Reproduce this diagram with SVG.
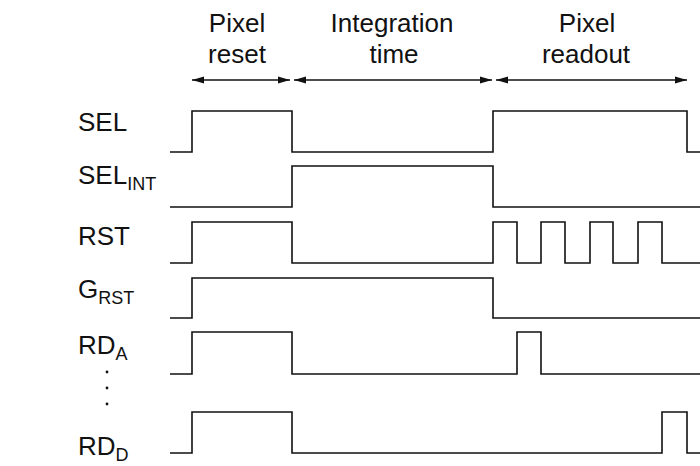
<svg xmlns="http://www.w3.org/2000/svg" width="700" height="466" viewBox="0 0 700 466">
<defs>
<marker id="ah" markerWidth="12" markerHeight="8" refX="12" refY="4" orient="auto-start-reverse" markerUnits="userSpaceOnUse">
<path d="M0,0.5 L12,4 L0,7.5 Z" fill="#111"/>
</marker>
<style>
.t{font-family:"Liberation Sans",Arial,sans-serif;font-size:26px;fill:#111}
.h{text-anchor:middle}
.s{font-size:18px}
.w{fill:none;stroke:#111;stroke-width:1.6}
.a{fill:none;stroke:#111;stroke-width:1.4;marker-start:url(#ah);marker-end:url(#ah)}
</style>
</defs>
<g id="headers">
<text class="t h" x="237" y="32">Pixel</text>
<text class="t h" x="237" y="63">reset</text>
<text class="t h" x="392" y="32">Integration</text>
<text class="t h" x="394" y="63">time</text>
<text class="t h" x="587" y="32">Pixel</text>
<text class="t h" x="586" y="63">readout</text>
</g>
<g id="connectors">
<line class="a" x1="192" y1="80" x2="290" y2="80"/>
<line class="a" x1="294" y1="80" x2="492" y2="80"/>
<line class="a" x1="496" y1="80" x2="687" y2="80"/>
</g>
<g id="SEL">
<text class="t" x="78" y="131">SEL</text>
<path class="w" d="M170,152 H192 V111 H292 V152 H493 V111 H687 V152 H700"/>
</g>
<g id="SEL_INT">
<text class="t" x="78" y="184">SEL<tspan class="s" dy="6">INT</tspan></text>
<path class="w" d="M170,207 H292 V166 H493 V207 H700"/>
</g>
<g id="RST">
<text class="t" x="78" y="245">RST</text>
<path class="w" d="M170,263 H192 V222 H292 V263 H493 V222 H517 V263 H541 V222 H565 V263 H590 V222 H613 V263 H638 V222 H662 V263 H700"/>
</g>
<g id="G_RST">
<text class="t" x="78" y="298">G<tspan class="s" dy="6">RST</tspan></text>
<path class="w" d="M170,318 H192 V278 H493 V318 H700"/>
</g>
<g id="RD_A">
<text class="t" x="78" y="354">RD<tspan class="s" dy="6">A</tspan></text>
<path class="w" d="M170,374 H192 V332 H292 V374 H517 V332 H541 V374 H700"/>
</g>
<g id="dots">
<circle cx="107" cy="372" r="1.4" fill="#111"/>
<circle cx="107" cy="388" r="1.4" fill="#111"/>
<circle cx="107" cy="404" r="1.4" fill="#111"/>
</g>
<g id="RD_D">
<text class="t" x="78" y="455">RD<tspan class="s" dy="6">D</tspan></text>
<path class="w" d="M170,453 H192 V412 H292 V453 H662 V412 H687 V453 H700"/>
</g>
</svg>
